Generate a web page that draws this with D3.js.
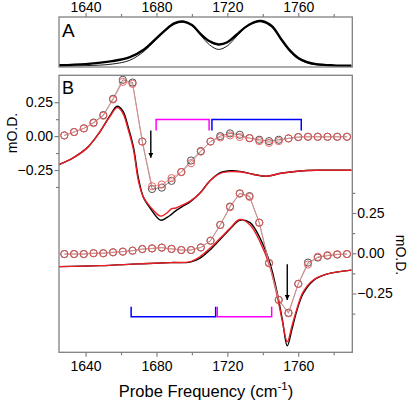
<!DOCTYPE html>
<html><head><meta charset="utf-8">
<script src="https://cdn.jsdelivr.net/npm/d3@7"></script>
<style>
body{margin:0;background:#fff;}
text{font-family:"Liberation Sans",Arial,Helvetica,sans-serif;}
</style></head>
<body><svg id="c" width="410" height="402"></svg>
<script>
// ---- Panel A: absorption spectra ----
const freqA = [1625,1640,1655,1665,1673,1679,1685,1690,1695,1700,1705,1710,1715,1720,1725,1730,1735,1739,1745,1750,1755,1760,1765,1770,1780,1790];
const absExp = [0.03,0.055,0.12,0.21,0.38,0.59,0.81,0.96,1.0,0.92,0.72,0.56,0.49,0.54,0.70,0.87,0.98,1.01,0.90,0.63,0.37,0.19,0.10,0.055,0.027,0.018];
const absFit = [0.01,0.02,0.055,0.14,0.34,0.57,0.80,0.94,0.99,0.91,0.69,0.48,0.38,0.46,0.66,0.86,0.97,1.0,0.90,0.62,0.35,0.17,0.08,0.04,0.015,0.01];

// ---- Panel B: probe frequencies of measured points ----
const probeFreq = [1628,1633.5,1639,1644.5,1650,1655.5,1661,1666.5,1672,1677.5,1683,1688.5,1694,1699.5,1705,1710.5,1716,1721.5,1727,1732.5,1738,1743.5,1749,1754.5,1760,1765.5,1771,1776.5,1782,1787.5];
// upper trace (left axis)
const upperExpRed   = [0.005,0.03,0.057,0.096,0.15,0.27,0.40,0.385,-0.04,-0.37,-0.357,-0.31,-0.265,-0.20,-0.115,-0.04,-0.01,0.005,-0.007,-0.015,-0.037,-0.05,-0.037,-0.017,-0.007,-0.005,-0.005,-0.005,-0.005,-0.005];
const upperExpBlack = [0.005,0.03,0.057,0.10,0.155,0.275,0.415,0.395,-0.04,-0.39,-0.38,-0.33,-0.265,-0.18,-0.11,-0.04,0.0,0.02,0.01,-0.015,-0.027,-0.037,-0.027,-0.017,-0.007,-0.005,-0.005,-0.005,-0.005,-0.005];
// lower trace (right axis)
const lowerExpRed   = [-0.005,-0.005,-0.005,0,0,0.006,0.01,0.016,0.026,0.03,0.035,0.027,0.02,0.02,0.036,0.078,0.176,0.286,0.37,0.35,0.19,-0.062,-0.29,-0.373,-0.19,-0.07,-0.022,-0.012,-0.006,-0.005];
const lowerExpBlack = [-0.005,-0.005,-0.005,0,0,0.006,0.01,0.016,0.026,0.03,0.035,0.027,0.02,0.02,0.036,0.078,0.176,0.29,0.372,0.355,0.19,-0.06,-0.29,-0.37,-0.19,-0.058,-0.027,-0.015,-0.008,-0.005];

// simulated spectra (solid lines)
const upperSimFreq  = [1625,1633,1641,1648,1653.5,1657.8,1661,1664,1667,1669.8,1672.6,1676.4,1682.3,1686,1688.6,1691,1694.5,1699,1704.6,1710.2,1716,1722,1728,1735,1742,1751,1761,1770,1790];
const upperSimRed   = [-0.21,-0.16,-0.085,0.03,0.14,0.21,0.17,0.05,-0.1,-0.33,-0.45,-0.52,-0.59,-0.565,-0.535,-0.53,-0.51,-0.48,-0.42,-0.33,-0.275,-0.262,-0.265,-0.283,-0.296,-0.272,-0.257,-0.252,-0.252];
const upperSimBlack = [-0.21,-0.16,-0.085,0.03,0.145,0.22,0.185,0.07,-0.08,-0.31,-0.45,-0.53,-0.62,-0.60,-0.575,-0.55,-0.52,-0.485,-0.42,-0.33,-0.27,-0.255,-0.262,-0.283,-0.296,-0.272,-0.257,-0.252,-0.252];
const lowerSimFreq  = [1625,1648,1670,1688,1699,1704.6,1710.2,1715.9,1721.5,1727,1732.8,1738.4,1744,1748,1751,1753.8,1756.5,1759.1,1762.8,1768.5,1776,1790];
const lowerSimRed   = [-0.083,-0.077,-0.066,-0.058,-0.052,-0.021,0.031,0.093,0.155,0.21,0.176,0.072,-0.083,-0.26,-0.42,-0.55,-0.45,-0.35,-0.24,-0.166,-0.13,-0.105];
const lowerSimBlack = [-0.083,-0.077,-0.066,-0.058,-0.055,-0.03,0.02,0.085,0.15,0.205,0.19,0.095,-0.06,-0.24,-0.41,-0.575,-0.47,-0.36,-0.25,-0.17,-0.13,-0.105];

// annotations
const upperBrackets = [{from:1679.8,to:1709.7,color:"#ff00ff"},{from:1711.3,to:1761.7,color:"#0000ff"}];
const lowerBrackets = [{from:1665.7,to:1713.4,color:"#0000ff"},{from:1714.3,to:1745.0,color:"#ff00ff"}];
const upperBracketLevels = [0.123, 0.042];   // left-axis units: bar, leg end
const lowerBracketLevels = [-0.394, -0.332]; // right-axis units
const upperArrow = {f:1676.8, from:0.042, to:-0.16};
const lowerArrow = {f:1753.8, from:-0.068, to:-0.29};

// tick labels
const majorTicks = [1640,1680,1720,1760];
const minorTicks = [1660,1700,1740,1780];
const yMajor = [-0.25,0,0.25];
const yMinorLeft = [-0.375,-0.125,0.125];
const yMinorRight = [-0.375,-0.125,0.125,0.375];

const svg = d3.select("#c");
const L=59, R=352.3, Atop=17, Abot=67, Btop=75.3, Bbot=352.3;
const frameColor="#808080";

const x = d3.scaleLinear().domain([1625,1790.5]).range([L,R]);
const yA = d3.scaleLinear().domain([-0.01,1.1]).range([Abot,Atop]);
const yL = d3.scaleLinear().domain([-0.25,0.25]).range([170,102.2]);
const yR = d3.scaleLinear().domain([-0.25,0.25]).range([293.5,213]);

const defs = svg.append("defs");
defs.append("clipPath").attr("id","clipA").append("rect").attr("x",L).attr("y",Atop).attr("width",R-L).attr("height",Abot-Atop);
defs.append("clipPath").attr("id","clipB").append("rect").attr("x",L).attr("y",Btop).attr("width",R-L).attr("height",Bbot-Btop);
defs.append("marker").attr("id","arr").attr("viewBox","0 0 10 10").attr("refX",10).attr("refY",5)
  .attr("markerWidth",5).attr("markerHeight",5).attr("markerUnits","userSpaceOnUse").attr("orient","auto")
  .append("path").attr("d","M0,0L10,5L0,10z").attr("fill","#000");

// ---- Panel A ----
const gA = svg.append("g").attr("clip-path","url(#clipA)");
const lineA = d3.line().x((d,i)=>x(freqA[i])).y(d=>yA(d)).curve(d3.curveCatmullRom);
gA.append("path").attr("d",lineA(absFit)).attr("fill","none").attr("stroke","#000").attr("stroke-width",0.9);
gA.append("path").attr("d",lineA(absExp)).attr("fill","none").attr("stroke","#000").attr("stroke-width",2.4);

// ---- Panel B ----
const gB = svg.append("g").attr("clip-path","url(#clipB)");
function simLine(fr, vals, ys, color){
  const ln = d3.line().x((d,i)=>x(fr[i])).y(d=>ys(d)).curve(d3.curveCatmullRom);
  gB.append("path").attr("d",ln(vals)).attr("fill","none").attr("stroke",color).attr("stroke-width",1.4);
}
simLine(upperSimFreq, upperSimBlack, yL, "#000");
simLine(upperSimFreq, upperSimRed, yL, "#ee1c24");
simLine(lowerSimFreq, lowerSimBlack, yR, "#000");
simLine(lowerSimFreq, lowerSimRed, yR, "#ee1c24");

function expSeries(vals, ys, lineColor, circColor){
  const ln = d3.line().x((d,i)=>x(probeFreq[i])).y(d=>ys(d));
  gB.append("path").attr("d",ln(vals)).attr("fill","none").attr("stroke",lineColor).attr("stroke-width",0.8);
  gB.append("g").selectAll("circle").data(vals).join("circle")
    .attr("cx",(d,i)=>x(probeFreq[i])).attr("cy",d=>ys(d)).attr("r",3.6)
    .attr("fill","none").attr("stroke",circColor).attr("stroke-width",0.9);
}
expSeries(upperExpBlack, yL, "#707070", "#404040");
expSeries(upperExpRed, yL, "#f08a8a", "#ee5555");
expSeries(lowerExpBlack, yR, "#707070", "#404040");
expSeries(lowerExpRed, yR, "#f08a8a", "#ee5555");

function bracket(b, ys, lv){
  const p = d3.path();
  p.moveTo(x(b.from), ys(lv[1])); p.lineTo(x(b.from), ys(lv[0]));
  p.lineTo(x(b.to), ys(lv[0])); p.lineTo(x(b.to), ys(lv[1]));
  gB.append("path").attr("d",p.toString()).attr("fill","none").attr("stroke",b.color).attr("stroke-width",1.5);
}
upperBrackets.forEach(b=>bracket(b,yL,upperBracketLevels));
lowerBrackets.forEach(b=>bracket(b,yR,lowerBracketLevels));

function arrow(a, ys){
  gB.append("line").attr("x1",x(a.f)).attr("x2",x(a.f)).attr("y1",ys(a.from)).attr("y2",ys(a.to))
    .attr("stroke","#000").attr("stroke-width",1.4).attr("marker-end","url(#arr)");
}
arrow(upperArrow, yL);
arrow(lowerArrow, yR);

// ---- frames ----
svg.append("rect").attr("x",L).attr("y",Atop).attr("width",R-L).attr("height",Abot-Atop)
  .attr("fill","none").attr("stroke",frameColor).attr("stroke-width",1.3);
svg.append("rect").attr("x",L).attr("y",Btop).attr("width",R-L).attr("height",Bbot-Btop)
  .attr("fill","none").attr("stroke",frameColor).attr("stroke-width",1.3);

// ---- axes ----
function styleAxis(g){
  g.select(".domain").remove();
  g.selectAll(".tick line").attr("stroke",frameColor).attr("stroke-width",1.2);
  g.selectAll("text").attr("font-size",14).attr("fill","#000")
   .attr("font-family","Liberation Sans, Arial, sans-serif");
}
svg.append("g").attr("transform",`translate(0,${Atop})`)
  .call(d3.axisTop(x).tickValues(majorTicks).tickSize(4).tickPadding(1.5).tickFormat(d3.format("d"))).call(styleAxis);
svg.append("g").attr("transform",`translate(0,${Atop})`)
  .call(d3.axisTop(x).tickValues(minorTicks).tickSize(3).tickFormat("")).call(styleAxis);
svg.append("g").attr("transform",`translate(0,${Bbot})`)
  .call(d3.axisBottom(x).tickValues(majorTicks).tickSize(4.5).tickPadding(4.5).tickFormat(d3.format("d"))).call(styleAxis);
svg.append("g").attr("transform",`translate(0,${Bbot})`)
  .call(d3.axisBottom(x).tickValues(minorTicks).tickSize(3).tickFormat("")).call(styleAxis);

svg.append("g").attr("transform",`translate(${L},0)`)
  .call(d3.axisLeft(yL).tickValues(yMajor).tickSize(4.5).tickPadding(1.5).tickFormat(d3.format(".2f"))).call(styleAxis);
svg.append("g").attr("transform",`translate(${L},0)`)
  .call(d3.axisLeft(yL).tickValues(yMinorLeft).tickSize(3).tickFormat("")).call(styleAxis);
svg.append("g").attr("transform",`translate(${R},0)`)
  .call(d3.axisRight(yR).tickValues(yMajor).tickSize(4).tickPadding(1).tickFormat(d3.format(".2f"))).call(styleAxis);
svg.append("g").attr("transform",`translate(${R},0)`)
  .call(d3.axisRight(yR).tickValues(yMinorRight).tickSize(3).tickFormat("")).call(styleAxis);

// ---- labels ----
svg.append("text").attr("x",62).attr("y",36.5).attr("font-size",19).text("A");
svg.append("text").attr("x",62).attr("y",93.5).attr("font-size",18).text("B");
svg.append("text").attr("transform","translate(17,133) rotate(-90)").attr("text-anchor","middle")
  .attr("font-size",14).text("mO.D.");
svg.append("text").attr("transform","translate(396,255) rotate(90)").attr("text-anchor","middle")
  .attr("font-size",14).text("mO.D.");
const xt = svg.append("text").attr("x",206).attr("y",397).attr("text-anchor","middle").attr("font-size",16.5);
xt.append("tspan").text("Probe Frequency (cm");
xt.append("tspan").attr("dy",-7).attr("font-size",11.5).text("-1");
xt.append("tspan").attr("dy",7).text(")");
</script></body></html>
